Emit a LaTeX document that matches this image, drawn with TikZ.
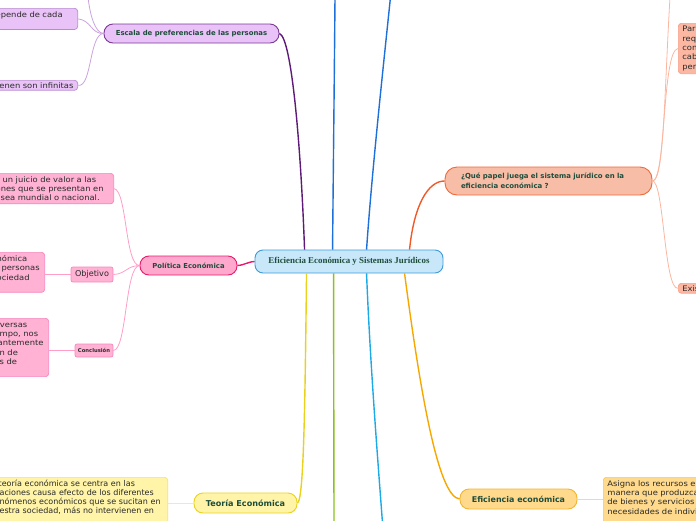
\documentclass[tikz,border=0pt]{standalone}
\usepackage{fontspec}
\newfontfamily\vf{DejaVu Sans}
\newfontfamily\vfw[FakeStretch=1.1]{DejaVu Sans}
\newfontfamily\cf{Liberation Serif}
\definecolor{tgreen}{HTML}{1E4D3B}
\definecolor{tdark}{HTML}{2A2A2A}
\definecolor{cfill}{HTML}{C8E8FA}
\definecolor{cline}{HTML}{3B9BDB}
\definecolor{pumain}{HTML}{5E1A78}
\definecolor{pufill}{HTML}{E9C2F7}
\definecolor{puborder}{HTML}{7A3A94}
\definecolor{pulight}{HTML}{C9A3DD}
\definecolor{puboxb}{HTML}{B98AD0}
\definecolor{pimain}{HTML}{E8196A}
\definecolor{pifill}{HTML}{FFA8CE}
\definecolor{pilight}{HTML}{FF9DC8}
\definecolor{piboxf}{HTML}{FFB2D4}
\definecolor{piboxb}{HTML}{F589BC}
\definecolor{yemain}{HTML}{E9D21E}
\definecolor{yefill}{HTML}{FFF4A8}
\definecolor{yelight}{HTML}{F8EBA0}
\definecolor{yeboxb}{HTML}{F4E07A}
\definecolor{ormain}{HTML}{F6A800}
\definecolor{orfill}{HTML}{FFD98C}
\definecolor{orborder}{HTML}{F2B531}
\definecolor{orlight}{HTML}{FCD98A}
\definecolor{orboxb}{HTML}{F7C860}
\definecolor{samain}{HTML}{EE5A2A}
\definecolor{safill}{HTML}{F8BDA7}
\definecolor{saborder}{HTML}{EE6A3A}
\definecolor{salight}{HTML}{FBB6A0}
\definecolor{saboxf}{HTML}{FBB7A2}
\definecolor{saboxb}{HTML}{F8A088}
\definecolor{blmain}{HTML}{1D6FD9}
\definecolor{lbmain}{HTML}{1BAAE6}
\definecolor{grmain}{HTML}{8CC21E}
\begin{document}
\begin{tikzpicture}[x=1pt,y=-1pt,
  mainnode/.style={draw, line width=0.9pt, rounded corners=9pt, inner sep=0pt,
    font=\vf\bfseries, text=tgreen},
  leafbox/.style={draw, line width=0.7pt, rounded corners=3pt, inner xsep=4pt, inner ysep=3pt,
    align=left, font=\vfw\fontsize{7.6}{9.3}\selectfont, text=tdark},
  thick/.style={line width=1.4pt},
  thin/.style={line width=0.8pt}]
\useasboundingbox (0,0) rectangle (696,520);
\clip (0,0) rectangle (696,520);

% central
\node[draw=cline, fill=cfill, line width=0.9pt, rounded corners=8pt, minimum width=188pt, minimum height=23pt,
  inner sep=0pt, font=\cf\bfseries\fontsize{8.9}{10}\selectfont, text=tgreen] (c) at (349,261.5)
  {Eficiencia Económica y Sistemas Jurídicos};

% off-page coordinates
\coordinate (b1) at (335,-3);
\coordinate (b2) at (390.5,-3);
\coordinate (g1) at (334,523);
\coordinate (lb1) at (382.5,523);
\coordinate (escup) at (88,-3);
\coordinate (saup) at (670,-3);

% main branch nodes
\node[mainnode, draw=puborder, fill=pufill, minimum width=175pt, minimum height=19pt,
  font=\vf\bfseries\fontsize{6.9}{8}\selectfont] (esc) at (191.5,33.5) {Escala de preferencias de las personas};
\node[mainnode, draw=pimain, fill=pifill, minimum width=97pt, minimum height=19pt,
  font=\vf\bfseries\fontsize{6.85}{8}\selectfont] (pol) at (188.5,265.5) {Política Económica};
\node[mainnode, draw=yemain, fill=yefill, minimum width=103pt, minimum height=20pt,
  font=\vf\bfseries\fontsize{8.1}{9}\selectfont] (teo) at (245.5,503) {Teoría Económica};
\node[mainnode, draw=saborder, fill=safill, minimum width=207pt, minimum height=28pt, rounded corners=12pt,
  inner xsep=16pt, text width=175pt, align=left, font=\vf\bfseries\fontsize{6.95}{9.6}\selectfont] (que) at (548.5,181)
  {¿Qué papel juega el sistema jurídico en la\\eficiencia económica ?};
\node[mainnode, draw=orborder, fill=orfill, minimum width=117pt, minimum height=20pt,
  font=\vf\bfseries\fontsize{7.95}{9}\selectfont] (efi) at (518.5,499) {Eficiencia económica};

% main connectors
\draw[thick, pumain] ([xshift=50pt]c.north west) .. controls (301,150) and (292,38) .. (esc.east);
\draw[thick, blmain] ([xshift=78pt]c.north west) .. controls (333.5,150) and (334.5,60) .. (b1);
\draw[thick, blmain] ([xshift=112pt]c.north west) .. controls (372,170) and (384,60) .. (b2);
\draw[thick, samain] ([xshift=155pt]c.north west) .. controls (414,205) and (428,181) .. (que.west);
\draw[thick, pimain] (c.west) .. controls (247,262) and (245,265) .. (pol.east);
\draw[thick, yemain] ([xshift=52pt]c.south west) .. controls (305,400) and (304,500) .. (teo.east);
\draw[thick, grmain] ([xshift=79pt]c.south west) -- (g1);
\draw[thick, lbmain] ([xshift=112pt]c.south west) .. controls (370,360) and (377,450) .. (lb1);
\draw[thick, ormain] ([xshift=150pt]c.south west) .. controls (420,390) and (438,497) .. (efi.west);

% Escala leaves
\node[leafbox, draw=puboxb, fill=pufill, anchor=north east, text width=74pt] (e1) at (78,8)
  {\hspace*{-4pt}\mbox{epende de cada}\\ \mbox{}};
\node[leafbox, draw=puboxb, fill=pufill, anchor=north east, text width=74pt, inner ysep=2pt] (e2) at (78,80)
  {\hspace*{-2.5pt}\mbox{ienen son infinitas}};
\draw[thin, pulight] (esc.west) .. controls (91,34) and (91,20) .. (e1.east);
\draw[thin, pulight] (esc.west) .. controls (89,34) and (92,88) .. (e2.east);
\draw[thin, pulight] (esc.west) .. controls (95,33) and (90,15) .. (escup);

% Politica leaves
\node[leafbox, draw=piboxb, fill=piboxf, anchor=north east, text width=110pt] (p1) at (114,173)
  {\hspace*{-3pt}\mbox{r un juicio de valor a las}\\\hspace*{-4pt}\mbox{ones que se presentan en}\\\hspace*{1pt}\mbox{sea mundial o nacional.}};
\node[draw=piboxb, fill=piboxf, line width=0.7pt, rounded corners=2pt, minimum width=42pt, minimum height=15pt,
  inner sep=0pt, font=\vf\fontsize{8.1}{9}\selectfont, text=tdark] (obj) at (92,274.5) {Objetivo};
\node[draw=piboxb, fill=piboxf, line width=0.7pt, rounded corners=2pt, minimum width=38pt, minimum height=13pt,
  inner sep=0pt, font=\vf\bfseries\fontsize{5.25}{6}\selectfont, text=tdark] (con) at (94,350.5) {Conclusión};
\node[leafbox, draw=piboxb, fill=piboxf, anchor=north east, text width=41pt] (p2) at (45,252)
  {\hspace*{-3pt}\mbox{nómica}\\\hspace*{-5pt}\mbox{s personas}\\\hspace*{-3pt}\mbox{ociedad}\\ \mbox{}};
\node[leafbox, draw=piboxb, fill=piboxf, anchor=north east, text width=45pt] (p3) at (49,318)
  {\hspace*{-2pt}\mbox{iversas}\\\mbox{mpo, nos}\\\hspace*{-2pt}\mbox{antemente}\\\mbox{n de}\\\mbox{s de}\\ \mbox{}};
\draw[thin, pilight] (pol.west) .. controls (125,266) and (127,190) .. (p1.east);
\draw[thin, pilight] (pol.west) .. controls (126,266) and (126,274) .. (obj.east);
\draw[thin, pilight] (pol.west) .. controls (125,266) and (127,350) .. (con.east);
\draw[thin, pilight] (obj.west) -- (p2.east |- obj.west);
\draw[thin, pilight] (con.west) -- (p3.east |- con.west);

% Teoria leaf
\node[leafbox, draw=yeboxb, fill=yefill, anchor=north east, text width=164pt, font=\vf\fontsize{8}{9}\selectfont] (t1) at (168,477)
  {\hspace*{-1pt}teoría económica se centra en las\\aciones causa efecto de los diferentes\\nómenos económicos que se sucitan en\\estra sociedad, más no intervienen en\\ \mbox{}\\ \mbox{}};
\draw[thin, yelight] (teo.west) -- (t1.east |- teo.west);

% Que papel leaves
\node[leafbox, draw=saboxb, fill=saboxf, anchor=north west, text width=60pt] (q1) at (678,23)
  {Para\\req\\con\\cab\\per};
\node[leafbox, draw=saboxb, fill=saboxf, anchor=north west, text width=60pt, inner ysep=2pt] (q2) at (678,283)
  {Exis};
\draw[thin, salight] (que.east) .. controls (664,181) and (664,100) .. (saup);
\draw[thin, salight] (que.east) .. controls (666,181) and (662,50) .. (q1.west);
\draw[thin, salight] (que.east) .. controls (664,181) and (664,290) .. (q2.west);

% Eficiencia leaf
\node[leafbox, draw=orboxb, fill=orfill, anchor=north west, text width=130pt] (f1) at (603,477)
  {Asigna los recursos ec\\manera que produzcan\\de bienes y servicios c\\necesidades de individ\\ \mbox{}\\ \mbox{}};
\draw[thin, orlight] (efi.east) -- (f1.west |- efi.east);
\end{tikzpicture}
\end{document}
